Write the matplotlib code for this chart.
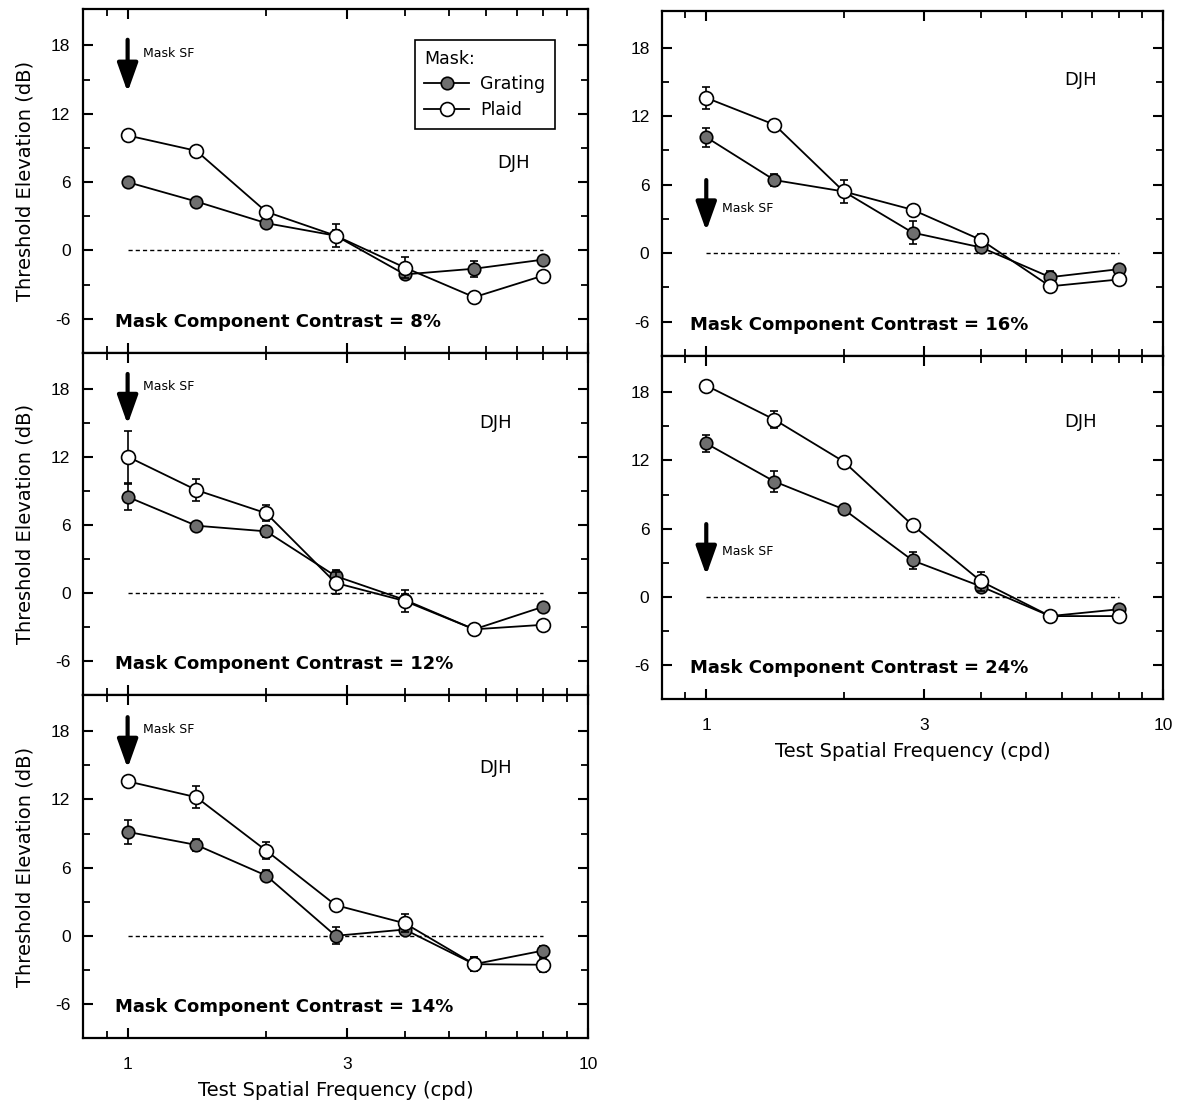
import matplotlib
matplotlib.use("Agg")
import matplotlib.pyplot as plt
from matplotlib.lines import Line2D
import numpy as np

plt.rcParams["font.family"] = ["Liberation Sans", "DejaVu Sans"]
plt.rcParams["axes.unicode_minus"] = False

freqs = [1.0, 1.41, 2.0, 2.83, 4.0, 5.66, 8.0]

contrasts = ["8%", "16%", "12%", "24%", "14%"]

grating = {
    "8%": [6.0, 4.3, 2.4, 1.3, -2.1, -1.6, -0.8],
    "16%": [10.15, 6.4, 5.4, 1.8, 0.5, -2.1, -1.4],
    "12%": [8.5, 5.95, 5.45, 1.5, -0.6, -3.2, -1.2],
    "24%": [13.5, 10.15, 7.7, 3.2, 0.9, -1.7, -1.1],
    "14%": [9.15, 8.0, 5.3, 0.0, 0.55, -2.5, -1.3],
}
grating_err = {
    "8%": [0.4, 0.3, 0.3, 0.5, 0.4, 0.7, 0.3],
    "16%": [0.85, 0.5, 0.4, 1.0, 0.3, 0.5, 0.3],
    "12%": [1.15, 0.3, 0.5, 0.5, 0.5, 0.4, 0.3],
    "24%": [0.75, 0.9, 0.3, 0.75, 0.4, 0.3, 0.3],
    "14%": [1.05, 0.5, 0.5, 0.75, 0.3, 0.6, 0.4],
}
plaid = {
    "8%": [10.1, 8.75, 3.4, 1.3, -1.5, -4.1, -2.2],
    "16%": [13.6, 11.25, 5.4, 3.8, 1.15, -2.9, -2.3],
    "12%": [12.05, 9.1, 7.05, 0.9, -0.7, -3.2, -2.8],
    "24%": [18.6, 15.6, 11.9, 6.3, 1.35, -1.7, -1.7],
    "14%": [13.6, 12.2, 7.5, 2.7, 1.1, -2.5, -2.55],
}
plaid_err = {
    "8%": [0.5, 0.3, 0.3, 1.0, 0.9, 0.3, 0.3],
    "16%": [0.95, 0.4, 1.05, 0.3, 0.5, 0.3, 0.3],
    "12%": [2.3, 0.95, 0.7, 1.0, 0.95, 0.3, 0.3],
    "24%": [0.4, 0.75, 0.4, 0.3, 0.8, 0.3, 0.3],
    "14%": [0.3, 0.95, 0.75, 0.3, 0.8, 0.6, 0.6],
}

# arrow (top, tip, label y) and DJH position per panel
arrows = {
    "8%": (18.5, 13.9, 17.3),
    "16%": (6.4, 1.95, 3.95),
    "12%": (19.35, 14.9, 18.2),
    "24%": (6.4, 1.9, 4.0),
    "14%": (19.25, 14.75, 18.2),
}
djh_pos = {
    "8%": (6.9, 7.7),
    "16%": (6.6, 15.2),
    "12%": (6.3, 15.0),
    "24%": (6.6, 15.4),
    "14%": (6.3, 14.8),
}

W, H = 1183, 1109
fig = plt.figure(figsize=(W / 100, H / 100), dpi=100)

# panel boxes in pixels: left, top, right, bottom
boxes = {
    "8%": (83, 9, 588, 353),
    "12%": (83, 353, 588, 695),
    "14%": (83, 695, 588, 1038),
    "16%": (662, 11, 1163, 356),
    "24%": (662, 356, 1163, 699),
}
bottom_panels = ["14%", "24%"]
left_panels = ["8%", "12%", "14%"]
wide = ["DejaVu Sans"]

for c in contrasts:
    l, t, r, b = boxes[c]
    ax = fig.add_axes([l / W, 1 - b / H, (r - l) / W, (b - t) / H])
    ax.set_xscale("log")
    ax.set_xlim(0.8, 10)
    ax.set_ylim(-9, 21.2)

    ax.plot([1, 8], [0, 0], ls=(0, (3, 2.2)), color="black", lw=1.0, zorder=1)

    ax.errorbar(freqs, grating[c], yerr=grating_err[c], color="black", lw=1.3,
                marker="o", ms=9, mfc="#6f6f6f", mec="black", mew=1.2,
                capsize=3, elinewidth=1.2, capthick=1.2, zorder=3)
    ax.errorbar(freqs, plaid[c], yerr=plaid_err[c], color="black", lw=1.3,
                marker="o", ms=10, mfc="white", mec="black", mew=1.2,
                capsize=3, elinewidth=1.2, capthick=1.2, zorder=4)

    top, tip, ly = arrows[c]
    ax.annotate("", xy=(1, tip), xytext=(1, top),
                arrowprops=dict(arrowstyle="-|>,head_length=0.7,head_width=0.25",
                                mutation_scale=25, lw=3, color="black",
                                shrinkA=0, shrinkB=0))
    ax.text(1.08, ly, "Mask SF", fontsize=9, family=wide, ha="left", va="center")

    dx, dy = djh_pos[c]
    ax.text(dx, dy, "DJH", fontsize=13, family=wide, ha="center", va="center")

    x0 = 0.94 if c in left_panels else 0.92
    ax.text(x0, -6.3, "Mask Component Contrast = " + c, fontsize=13, family=wide,
            fontweight="bold", ha="left", va="center")

    ax.set_xticks([1, 3, 10])
    ax.set_xticks([0.8, 0.9, 2, 4, 5, 6, 7, 8, 9], minor=True)
    ax.xaxis.set_minor_formatter(plt.NullFormatter())
    ax.set_yticks([-6, 0, 6, 12, 18])
    ax.set_yticks([-3, 3, 9, 15], minor=True)
    ax.tick_params(which="both", direction="in", top=True, right=True,
                   width=1.5, labelsize=12.5)
    ax.tick_params(which="major", length=7)
    ax.tick_params(which="minor", length=5, width=1.3)
    ax.tick_params(axis="y", pad=9)
    ax.tick_params(axis="x", pad=14)
    if c in bottom_panels:
        ax.set_xticklabels(["1", "3", "10"])
        ax.set_xlabel("Test Spatial Frequency (cpd)", fontsize=14, family=wide,
                      labelpad=6)
    else:
        ax.set_xticklabels([])
    if c in left_panels:
        ax.set_ylabel("Threshold Elevation (dB)", fontsize=14, family=wide,
                      labelpad=12)
    for s in ax.spines.values():
        s.set_linewidth(1.6)

    if c == "8%":
        handles = [
            Line2D([], [], color="black", lw=1.3, marker="o", ms=9,
                   mfc="#6f6f6f", mec="black", mew=1.2),
            Line2D([], [], color="black", lw=1.3, marker="o", ms=10,
                   mfc="white", mec="black", mew=1.2),
        ]
        leg = ax.legend(handles, ["Grating", "Plaid"], loc="upper left",
                        bbox_to_anchor=(0.657, 0.91), borderaxespad=0,
                        title="Mask:", alignment="left",
                        prop={"family": wide, "size": 12.5},
                        title_fontproperties={"family": wide, "size": 12.5},
                        fancybox=False, edgecolor="black", framealpha=1,
                        handlelength=2.6, handletextpad=0.6,
                        borderpad=0.55, labelspacing=0.45)
        leg.get_frame().set_linewidth(1.2)

fig.savefig("out.png", dpi=100)
